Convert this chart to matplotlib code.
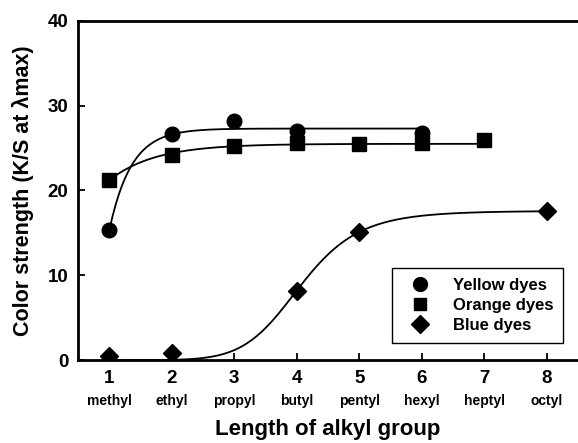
import numpy as np
import matplotlib.pyplot as plt

plt.rcParams['font.family'] = ['Liberation Sans', 'DejaVu Sans']
plt.rcParams['font.weight'] = 'bold'

# alkyl chain length and names
chain = [1, 2, 3, 4, 5, 6, 7, 8]
names = ['methyl', 'ethyl', 'propyl', 'butyl', 'pentyl', 'hexyl', 'heptyl', 'octyl']

yellow_x = [1, 2, 3, 4, 6]
yellow_y = [15.3, 26.6, 28.2, 27.0, 26.8]
orange_x = [1, 2, 3, 4, 5, 6, 7]
orange_y = [21.2, 24.2, 25.2, 25.6, 25.5, 25.6, 25.9]
blue_x = [1, 2, 4, 5, 8]
blue_y = [0.5, 0.8, 8.2, 15.1, 17.6]

# fitted trend curves (estimated parameters)
def saturating(x, top, drop, k):
    return top - drop * np.exp(-k * (x - 1))

def hill(x, top, half, n):
    return top * x**n / (half**n + x**n)

fig = plt.figure(figsize=(5.78, 4.43), dpi=100)
ax = fig.add_axes([0.135, 0.187, 0.865, 0.766])

xs = np.linspace(1, 6, 200)
ax.plot(xs, saturating(xs, 27.3, 12.0, 2.85), 'k-', lw=1.3)
xs = np.linspace(1, 7, 200)
ax.plot(xs, saturating(xs, 25.5, 4.3, 1.36), 'k-', lw=1.3)
xs = np.linspace(1, 8, 200)
ax.plot(xs, hill(xs, 17.6, 4.063, 8.67), 'k-', lw=1.3)

ax.plot(yellow_x, yellow_y, 'ko', ms=10.5, ls='none', label='Yellow dyes')
ax.plot(orange_x, orange_y, 'ks', ms=9.5, ls='none', label='Orange dyes')
ax.plot(blue_x, blue_y, 'kD', ms=9.5, ls='none', label='Blue dyes')

ax.set_xlim(0.5, 8.5)
ax.set_ylim(0, 40)
ax.set_xticks(chain)
ax.set_xticklabels([str(c) for c in chain], fontsize=13.5, fontweight='bold')
ax.set_yticks([0, 10, 20, 30, 40])
ax.set_yticklabels(['0', '10', '20', '30', '40'], fontsize=13.5, fontweight='bold')
ax.tick_params(direction='in', length=5, width=1.3, pad=7)

for s in ['left', 'bottom', 'top']:
    ax.spines[s].set_linewidth(2)
ax.spines['right'].set_visible(False)

for c, n in zip(chain, names):
    ax.text(c, -0.12, n, transform=ax.get_xaxis_transform(), ha='center', va='center',
            fontsize=10, fontweight='bold')

ax.set_xlabel('Length of alkyl group', fontsize=16, fontweight='bold', labelpad=23)
ax.set_ylabel('Color strength (K/S at λmax)', fontsize=15.5, fontweight='bold', labelpad=10)

leg = ax.legend(loc='lower right', bbox_to_anchor=(0.97, 0.05), borderaxespad=0, fancybox=False,
                edgecolor='black', framealpha=1, prop={'weight': 'bold', 'size': 12},
                handlelength=2.1, handletextpad=0.92, borderpad=0.6, labelspacing=0.32,
                markerscale=0.95)
leg.get_frame().set_linewidth(1)

fig.savefig('out.png', dpi=100)
